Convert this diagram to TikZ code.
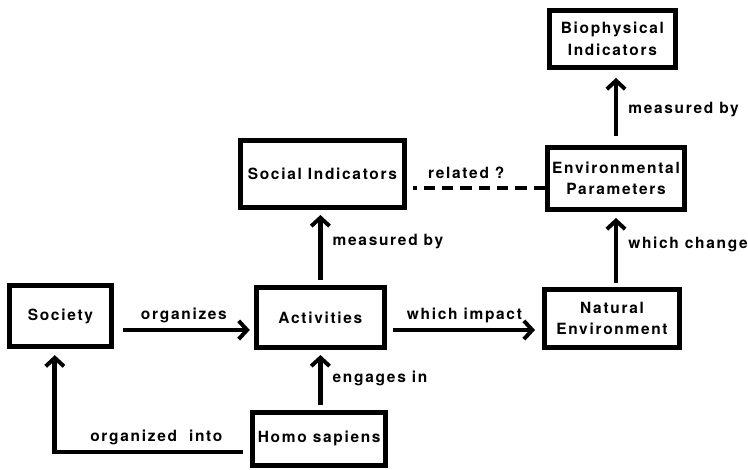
\documentclass[tikz,border=0pt]{standalone}
\usepackage{fontspec}
\setsansfont{TeX Gyre Heros}[LetterSpace=11]
\usetikzlibrary{positioning, arrows.meta}
\definecolor{clrink}{HTML}{000000}

\begin{document}
\begin{tikzpicture}[
    every node/.style={font=\sffamily\bfseries\fontsize{11}{15.5}\selectfont, text=clrink},
    block/.style={draw=clrink, line width=3.7pt, align=center, inner sep=2pt},
    arrow/.style={-{Straight Barb[length=6pt, width=13pt, line width=2.8pt]}, draw=clrink, line width=3.5pt},
    relline/.style={draw=clrink, line width=3.5pt, dash pattern=on 8pt off 5pt},
    label/.style={inner sep=3pt},
]
\useasboundingbox (0,0) rectangle (18.7,11.75);
% boxes
\node[block, minimum width=2.55cm, minimum height=1.53cm] (n_society) at (1.51,3.85) {Society};
\node[block, minimum width=3.2cm, minimum height=1.5cm] (n_activities) at (8.01,3.81) {Activities};
\node[block, minimum width=3.33cm, minimum height=1.33cm] (n_homo) at (7.98,0.78) {Homo sapiens};
\node[block, minimum width=4.1cm, minimum height=1.68cm] (n_social) at (8.06,7.4) {Social Indicators};
\node[block, minimum width=3.38cm, minimum height=1.45cm] (n_natural) at (15.3,3.79) {Natural\\Environment};
\node[block, minimum width=3.43cm, minimum height=1.55cm] (n_env) at (15.4,7.29) {Environmental\\Parameters};
\node[block, minimum width=3.15cm, minimum height=1.43cm] (n_bio) at (15.31,10.78) {Biophysical\\Indicators};
% connectors
\draw[arrow, shorten <=0.22cm, shorten >=0.1cm] ([yshift=-0.35cm]n_society.east) -- node[label, above=0.5pt] {organizes} ([yshift=-0.31cm]n_activities.west);
\draw[arrow, shorten <=0.15cm, shorten >=0.17cm] ([yshift=-0.31cm]n_activities.east) -- node[label, above=0.5pt] {which impact} ([yshift=-0.29cm]n_natural.west);
\draw[arrow, shorten <=0.12cm, shorten >=0.12cm] (n_activities.south |- n_homo.north) -- node[label, right=4pt, pos=0.53] {engages in} (n_activities.south);
\draw[arrow, shorten <=0.12cm, shorten >=0.12cm] (n_activities.north) -- node[label, right=4pt, pos=0.58] {measured by} (n_activities.north |- n_social.south);
\draw[arrow, shorten <=0.1cm, shorten >=0.15cm] (n_env.south |- n_natural.north) -- node[label, right=4pt, pos=0.57] {which change} (n_env.south);
\draw[arrow, shorten <=0.22cm, shorten >=0.2cm] (n_env.north) -- node[label, right=4pt, pos=0.47] {measured by} (n_env.north |- n_bio.south);
\draw[arrow, shorten <=0.17cm, shorten >=0.15cm] ([yshift=-0.33cm]n_homo.west) -| node[label, above=0.5pt, pos=0.24] {organized~~into} ([xshift=-0.14cm]n_society.south);
\draw[relline, shorten >=0.15cm] ([yshift=-0.24cm]n_env.west) -- node[label, above=2pt, pos=0.57] {related ?} ([yshift=-0.35cm]n_social.east);
\end{tikzpicture}
\end{document}
